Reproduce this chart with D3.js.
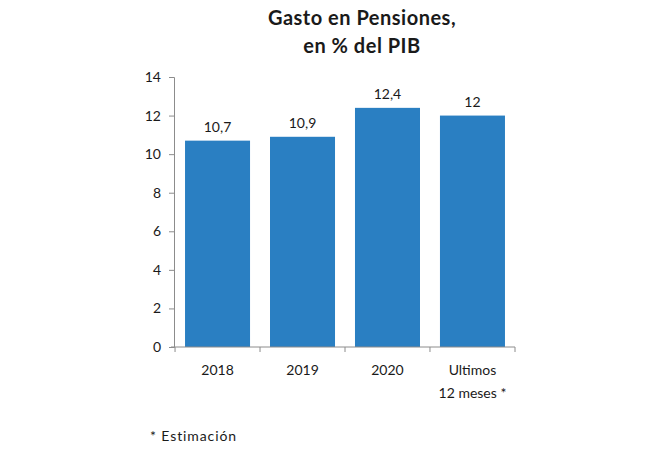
<!DOCTYPE html>
<html><head><meta charset="utf-8">
<script src="https://cdn.jsdelivr.net/npm/d3@7"></script>
<style>body{margin:0;background:#fff}svg{display:block}text{font-family:Lato,"Open Sans",sans-serif;fill:#1a1a1a}</style>
</head><body><svg id="c" width="650" height="471"></svg>
<script>
const categories = ["2018", "2019", "2020", "Ultimos\n12 meses *"];
const values = [10.7, 10.9, 12.4, 12];
const valueLabels = ["10,7", "10,9", "12,4", "12"];
const yTicks = [0, 2, 4, 6, 8, 10, 12, 14];

const svg = d3.select("#c");
const x = d3.scaleBand().domain(categories).range([175, 515]).paddingInner(0.235).paddingOuter(0.118);
const y = d3.scaleLinear().domain([0, 14]).range([347, 77]);

svg.append("g").selectAll("rect").data(values).join("rect")
  .attr("x", (d, i) => x(categories[i])).attr("width", x.bandwidth())
  .attr("y", d => y(d)).attr("height", d => y(0) - y(d)).attr("fill", "#2a7fc2");

// y axis
const ya = svg.append("g").attr("transform", "translate(174,0)")
  .call(d3.axisLeft(y).tickValues(yTicks).tickSize(5).tickPadding(8));
ya.select(".domain").attr("stroke", "#8c8c8c");
ya.selectAll(".tick line").attr("stroke", "#8c8c8c");
ya.selectAll(".tick text").style("font-size", "14px").style("font-family", "Lato,sans-serif").attr("fill", "#1a1a1a");

// x axis
const xa = svg.append("g").attr("transform", "translate(0,347)");
xa.append("line").attr("x1", 171).attr("x2", 515).attr("y1", 0).attr("y2", 0).attr("stroke", "#8c8c8c");
const edges = categories.map(c => x(c) - x.step() * x.paddingInner() / 2).concat([515]);
xa.selectAll("line.t").data(edges).join("line").attr("class", "t")
  .attr("x1", d => d).attr("x2", d => d).attr("y1", 0).attr("y2", 5).attr("stroke", "#8c8c8c");
xa.selectAll("text.cat").data(categories).join("text").attr("class", "cat")
  .attr("text-anchor", "middle").style("font-size", "14px")
  .attr("x", d => x(d) + x.bandwidth() / 2)
  .each(function (d) {
    const lines = d.split("\n");
    d3.select(this).selectAll("tspan").data(lines).join("tspan")
      .attr("x", x(d) + x.bandwidth() / 2).attr("y", (l, i) => 28 + i * 23).text(l => l);
  });

// value labels
svg.append("g").selectAll("text").data(values).join("text")
  .attr("text-anchor", "middle").style("font-size", "14px")
  .attr("x", (d, i) => x(categories[i]) + x.bandwidth() / 2)
  .attr("y", d => y(d) - 9).text((d, i) => valueLabels[i]);

// title
const t = svg.append("text").attr("text-anchor", "middle").style("font-size", "20px").style("font-weight", "bold").style("letter-spacing", "0.5px");
t.append("tspan").attr("x", 362).attr("y", 25).text("Gasto en Pensiones,");
t.append("tspan").attr("x", 362).attr("y", 53).text("en % del PIB");

svg.append("text").attr("x", 150).attr("y", 441).style("font-size", "14px").style("letter-spacing", "0.9px").text("* Estimación");
</script></body></html>
